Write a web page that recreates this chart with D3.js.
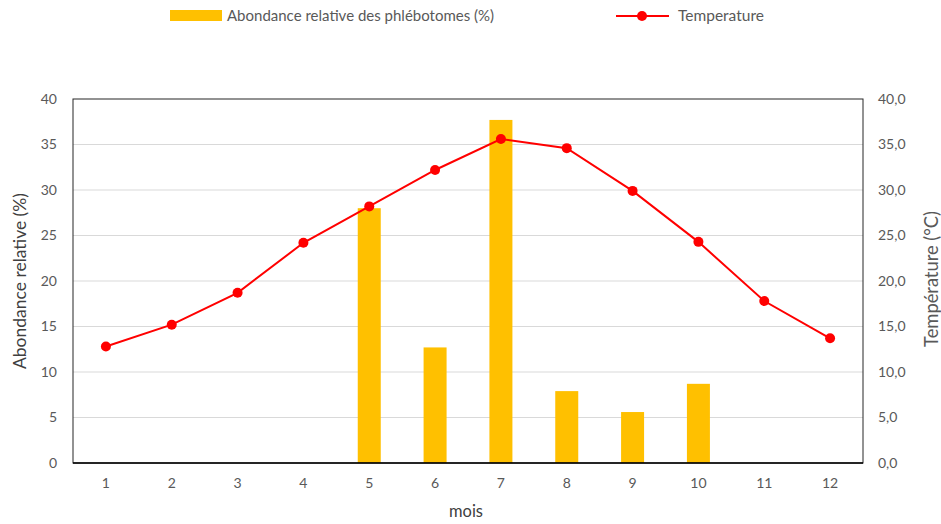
<!DOCTYPE html>
<html><head><meta charset="utf-8">
<script src="https://cdn.jsdelivr.net/npm/d3@7"></script>
<style>body{margin:0;background:#fff}svg{display:block;font-family:Lato,"Open Sans",sans-serif}</style>
</head><body><svg id="c" width="941" height="524"></svg>
<script>
const months = ["1","2","3","4","5","6","7","8","9","10","11","12"];
const abundance = [0,0,0,0,28.0,12.7,37.7,7.9,5.6,8.7,0,0];
const temperature = [12.8,15.2,18.7,24.2,28.2,32.2,35.6,34.6,29.9,24.3,17.8,13.7];
const leftTicks = [0,5,10,15,20,25,30,35,40];
const rightTicks = [0,5,10,15,20,25,30,35,40];

const svg = d3.select("#c");
const L=73, R=863, T=99, B=463;
const xc = d3.scaleBand().domain(months).range([L,R]);
const yL = d3.scaleLinear().domain([0,40]).range([B,T]);
const yR = d3.scaleLinear().domain([0,40]).range([B,T]);
const txt="#595959";

// gridlines
svg.append("g").selectAll("line").data(leftTicks.slice(1,-1)).join("line")
  .attr("x1",L).attr("x2",R).attr("y1",d=>yL(d)).attr("y2",d=>yL(d))
  .attr("stroke","#d9d9d9").attr("stroke-width",1);

// bars
svg.append("g").selectAll("rect").data(months.map((m,i)=>({m,v:abundance[i]})).filter(d=>d.v>0)).join("rect")
  .attr("x",d=>xc(d.m)+xc.bandwidth()/2-11.5).attr("width",23)
  .attr("y",d=>yL(d.v)).attr("height",d=>B-yL(d.v)).attr("fill","#ffc000");

// plot border
svg.append("rect").attr("x",L).attr("y",T).attr("width",R-L).attr("height",B-T)
  .attr("fill","none").attr("stroke","#262626").attr("stroke-width",1);
svg.append("line").attr("x1",L).attr("x2",R).attr("y1",B).attr("y2",B).attr("stroke","#000").attr("stroke-width",1.5);

// line
const cx = m=>xc(m)+xc.bandwidth()/2;
const line = d3.line().x((d,i)=>cx(months[i])).y(d=>yR(d));
svg.append("path").datum(temperature).attr("d",line).attr("fill","none").attr("stroke","#ff0000").attr("stroke-width",2);
svg.append("g").selectAll("circle").data(temperature).join("circle")
  .attr("cx",(d,i)=>cx(months[i])).attr("cy",d=>yR(d)).attr("r",5).attr("fill","#ff0000");

// axes
const axL = d3.axisLeft(yL).tickValues(leftTicks).tickSize(0).tickPadding(16);
const gL = svg.append("g").attr("transform",`translate(${L},0)`).call(axL);
const axR = d3.axisRight(yR).tickValues(rightTicks).tickSize(0).tickPadding(15).tickFormat(d=>d3.format(".1f")(d).replace(".",","));
const gR = svg.append("g").attr("transform",`translate(${R},0)`).call(axR);
const axB = d3.axisBottom(xc).tickSize(0).tickPadding(15);
const gB = svg.append("g").attr("transform",`translate(0,${B})`).call(axB);
[gL,gR,gB].forEach(g=>{g.select(".domain").remove();g.selectAll("text").attr("fill",txt).style("font-size","14px").style("font-family","Lato, 'Open Sans', sans-serif");});

function fit(sel, target){
  const len = sel.node().getComputedTextLength();
  const fs = parseFloat(sel.style("font-size"));
  sel.style("font-size", (fs*target/len).toFixed(2)+"px");
}
// titles
const tx = svg.append("text").attr("x",466).attr("y",517).attr("text-anchor","middle").attr("fill","#404040").style("font-size","16px").text("mois");
fit(tx,34);
const tl = svg.append("text").attr("transform",`translate(26,${(T+B)/2}) rotate(-90)`).attr("text-anchor","middle").attr("fill","#404040").style("font-size","16px").text("Abondance relative (%)");
fit(tl,176);
const tr = svg.append("text").attr("transform",`translate(938,${(T+B)/2 - 2}) rotate(-90)`).attr("text-anchor","middle").attr("fill",txt).style("font-size","16px").text("Température (°C)");
fit(tr,136);

// legend
const lg = svg.append("g");
lg.append("rect").attr("x",170).attr("y",10).attr("width",52).attr("height",11).attr("fill","#ffc000");
lg.append("text").attr("x",227).attr("y",21).attr("fill",txt).style("font-size","15px").text("Abondance relative des phlébotomes (%)");
lg.append("line").attr("x1",616).attr("x2",669).attr("y1",16).attr("y2",16).attr("stroke","#ff0000").attr("stroke-width",2);
lg.append("circle").attr("cx",642).attr("cy",16).attr("r",5).attr("fill","#ff0000");
lg.append("text").attr("x",678).attr("y",21).attr("fill",txt).style("font-size","15.5px").text("Temperature");
</script></body></html>
